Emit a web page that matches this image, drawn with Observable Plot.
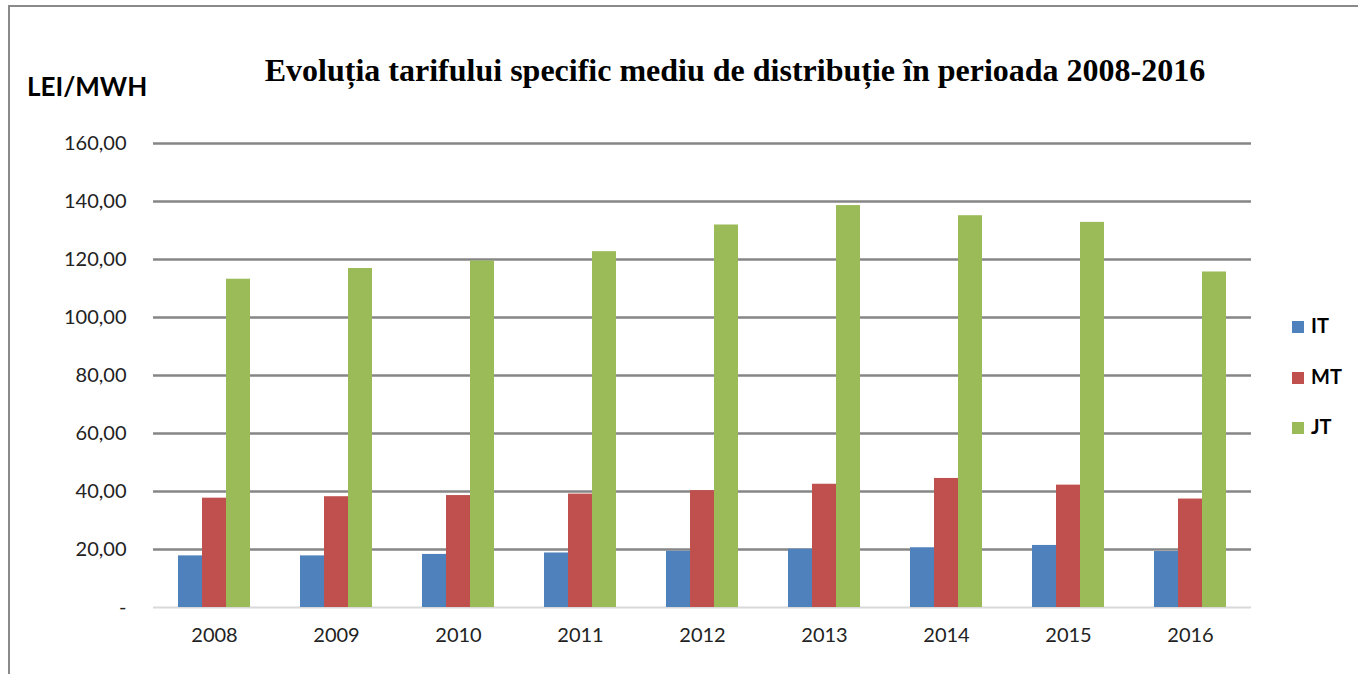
<!DOCTYPE html>
<html><head><meta charset="utf-8">
<script src="https://cdn.jsdelivr.net/npm/d3@7"></script>
<script src="https://cdn.jsdelivr.net/npm/@observablehq/plot@0.6"></script>
<style>
body{margin:0;background:#fff;}
#wrap{position:relative;width:1358px;height:674px;overflow:hidden;background:#fff;}
#frame{position:absolute;left:8px;top:5px;width:1400px;height:700px;border-left:2px solid #8a8a8a;border-top:2px solid #8a8a8a;}
#title{position:absolute;left:235px;width:1000px;top:52px;text-align:center;font-family:"Liberation Serif","Times New Roman",serif;font-weight:bold;font-size:32px;color:#000;white-space:nowrap;}
#unit{position:absolute;left:27px;top:70px;font-family:Lato,sans-serif;font-weight:bold;font-size:26px;color:#000;}
#legend{position:absolute;left:1292px;top:313px;font-family:Lato,sans-serif;font-weight:bold;font-size:20px;color:#000;}
.li{position:relative;height:50.5px;}
.sw{position:absolute;left:0;top:8px;width:12px;height:12px;}
.lb{position:absolute;left:19px;top:0;}
#chart{position:absolute;left:0;top:0;}
</style></head><body><div id="wrap"><div id="frame"></div><div id="chart"></div>
<div id="title">Evoluția tarifului specific mediu de distribuție în perioada 2008-2016</div>
<div id="unit">LEI/MWH</div>
<div id="legend"></div>
</div>
<script>
const years = ["2008","2009","2010","2011","2012","2013","2014","2015","2016"];
const series = ["IT","MT","JT"];
const valuesIT = [17.8,17.8,18.3,18.8,19.4,20.1,20.6,21.4,19.3];
const valuesMT = [37.7,38.2,38.6,39.1,40.3,42.5,44.5,42.2,37.4];
const valuesJT = [113.2,116.9,119.5,122.7,131.9,138.6,135.1,132.8,115.7];
const colors = ["#4f81bd","#c0504d","#9bbb59"];
const yTicks = [0,20,40,60,80,100,120,140,160];

const rows = years.flatMap((y,i)=>[
  {year:y, series:"IT", value:valuesIT[i]},
  {year:y, series:"MT", value:valuesMT[i]},
  {year:y, series:"JT", value:valuesJT[i]}
]);
const fmt = v => v === 0 ? "-" : v.toFixed(2).replace(".", ",");

const chart = Plot.plot({
  width:1358, height:674,
  marginLeft:150, marginRight:105, marginTop:143, marginBottom:67,
  style:{fontFamily:"Lato, sans-serif", fontSize:"20px", color:"#222", background:"transparent"},
  fx:{domain:years, padding:0, label:null, axis:"bottom", tickSize:0, tickPadding:20},
  x:{domain:series, axis:null, paddingInner:0, paddingOuter:0.98},
  y:{domain:[0,160], ticks:yTicks, tickFormat:fmt, label:null, tickSize:0, tickPadding:27},
  color:{domain:series, range:colors},
  marks:[
    Plot.gridY(yTicks.filter(d=>d>0), {stroke:"#868686", strokeOpacity:1, strokeWidth:2.5}),
    Plot.ruleY([0], {stroke:"#d9d9d9", strokeWidth:2}),
    Plot.barY(rows, {fx:"year", x:"series", y:"value", fill:"series"})
  ]
});
document.getElementById("chart").appendChild(chart);

const leg = document.getElementById("legend");
series.forEach((s,i)=>{
  const d = document.createElement("div"); d.className="li";
  d.innerHTML = `<span class="sw" style="background:${colors[i]}"></span><span class="lb">${s}</span>`;
  leg.appendChild(d);
});
</script>
</body></html>
